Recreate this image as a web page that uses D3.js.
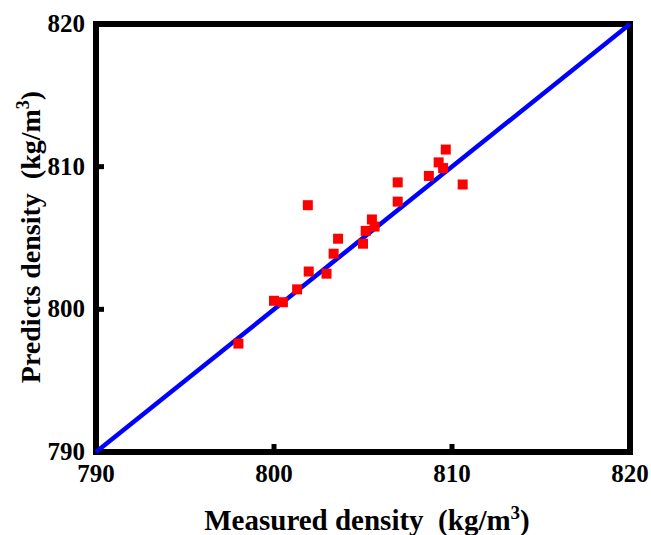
<!DOCTYPE html>
<html>
<head>
<meta charset="utf-8">
<script src="https://cdn.jsdelivr.net/npm/d3@7"></script>
<style>
  body { margin: 0; background: #fff; }
  svg { display: block; }
  text { font-family: "Liberation Serif", "Times New Roman", serif; font-weight: bold; }
</style>
</head>
<body>
<svg id="chart" width="651" height="535"></svg>
<script>
// measured vs predicted density
var measured  = [798.0, 800.0, 800.5, 801.3, 801.95, 801.9, 802.95, 803.35, 803.6, 805.0, 805.15, 805.5, 805.65, 806.95, 806.95, 808.7, 809.25, 809.5, 809.65, 810.6];
var predicted = [797.6, 800.6, 800.5, 801.4, 802.65, 807.3, 802.5, 803.9, 804.95, 804.6, 805.5, 806.3, 805.8, 808.9, 807.55, 809.35, 810.3, 809.9, 811.2, 808.75];
var fitLine = [790, 820];
var xTicks = [790, 800, 810, 820];
var yTicks = [790, 800, 810, 820];

var pLeft = 96, pRight = 630, pTop = 24, pBottom = 452;

var svg = d3.select('#chart');

var x = d3.scaleLinear().domain([790, 820]).range([pLeft, pRight]);
var y = d3.scaleLinear().domain([790, 820]).range([pBottom, pTop]);

// inner ticks (only the middle ones are drawn)
svg.selectAll('.xtick')
  .data([800, 810])
  .enter()
  .append('line')
  .attr('x1', function(d){ return x(d) })
  .attr('x2', function(d){ return x(d) })
  .attr('y1', pBottom)
  .attr('y2', pBottom - 8)
  .attr('stroke', '#000')
  .attr('stroke-width', 5);

svg.selectAll('.ytick')
  .data([800, 810])
  .enter()
  .append('line')
  .attr('y1', function(d){ return y(d) })
  .attr('y2', function(d){ return y(d) })
  .attr('x1', pLeft)
  .attr('x2', pLeft + 8)
  .attr('stroke', '#000')
  .attr('stroke-width', 5);

// frame
svg.append('rect')
  .attr('x', pLeft)
  .attr('y', pTop)
  .attr('width', pRight - pLeft)
  .attr('height', pBottom - pTop)
  .attr('fill', 'none')
  .attr('stroke', '#000')
  .attr('stroke-width', 6);

// y = x line
svg.append('line')
  .attr('x1', x(fitLine[0]))
  .attr('y1', y(fitLine[0]))
  .attr('x2', x(fitLine[1]))
  .attr('y2', y(fitLine[1]))
  .attr('stroke', '#0000ff')
  .attr('stroke-width', 4.5);

// points
var size = 10;
svg.selectAll('.pt')
  .data(measured)
  .enter()
  .append('rect')
  .attr('class', 'pt')
  .attr('x', function(d){ return x(d) - size/2 })
  .attr('y', function(d, i){ return y(predicted[i]) - size/2 })
  .attr('width', size)
  .attr('height', size)
  .attr('fill', '#ff0000');

// tick labels
svg.selectAll('.xlab')
  .data(xTicks)
  .enter()
  .append('text')
  .attr('x', function(d){ return x(d) })
  .attr('y', 482)
  .attr('text-anchor', 'middle')
  .style('font-size', '25px')
  .text(function(d){ return d });

svg.selectAll('.ylab')
  .data(yTicks)
  .enter()
  .append('text')
  .attr('x', 85)
  .attr('y', function(d){ return y(d) + 8 })
  .attr('text-anchor', 'end')
  .style('font-size', '25px')
  .text(function(d){ return d });

// axis titles
var xt = svg.append('text')
  .attr('x', 367)
  .attr('y', 530)
  .attr('text-anchor', 'middle')
  .style('font-size', '29px');
xt.append('tspan').text('Measured density\u00a0\u00a0(kg/m');
xt.append('tspan').attr('dy', -11).style('font-size', '19px').text('3');
xt.append('tspan').attr('dy', 11).text(')');

var yt = svg.append('text')
  .attr('transform', 'translate(40,237) rotate(-90)')
  .attr('text-anchor', 'middle')
  .style('font-size', '28px');
yt.append('tspan').text('Predicts density\u00a0\u00a0(kg/m');
yt.append('tspan').attr('dy', -11).style('font-size', '18px').text('3');
yt.append('tspan').attr('dy', 11).text(')');
</script>
</body>
</html>
